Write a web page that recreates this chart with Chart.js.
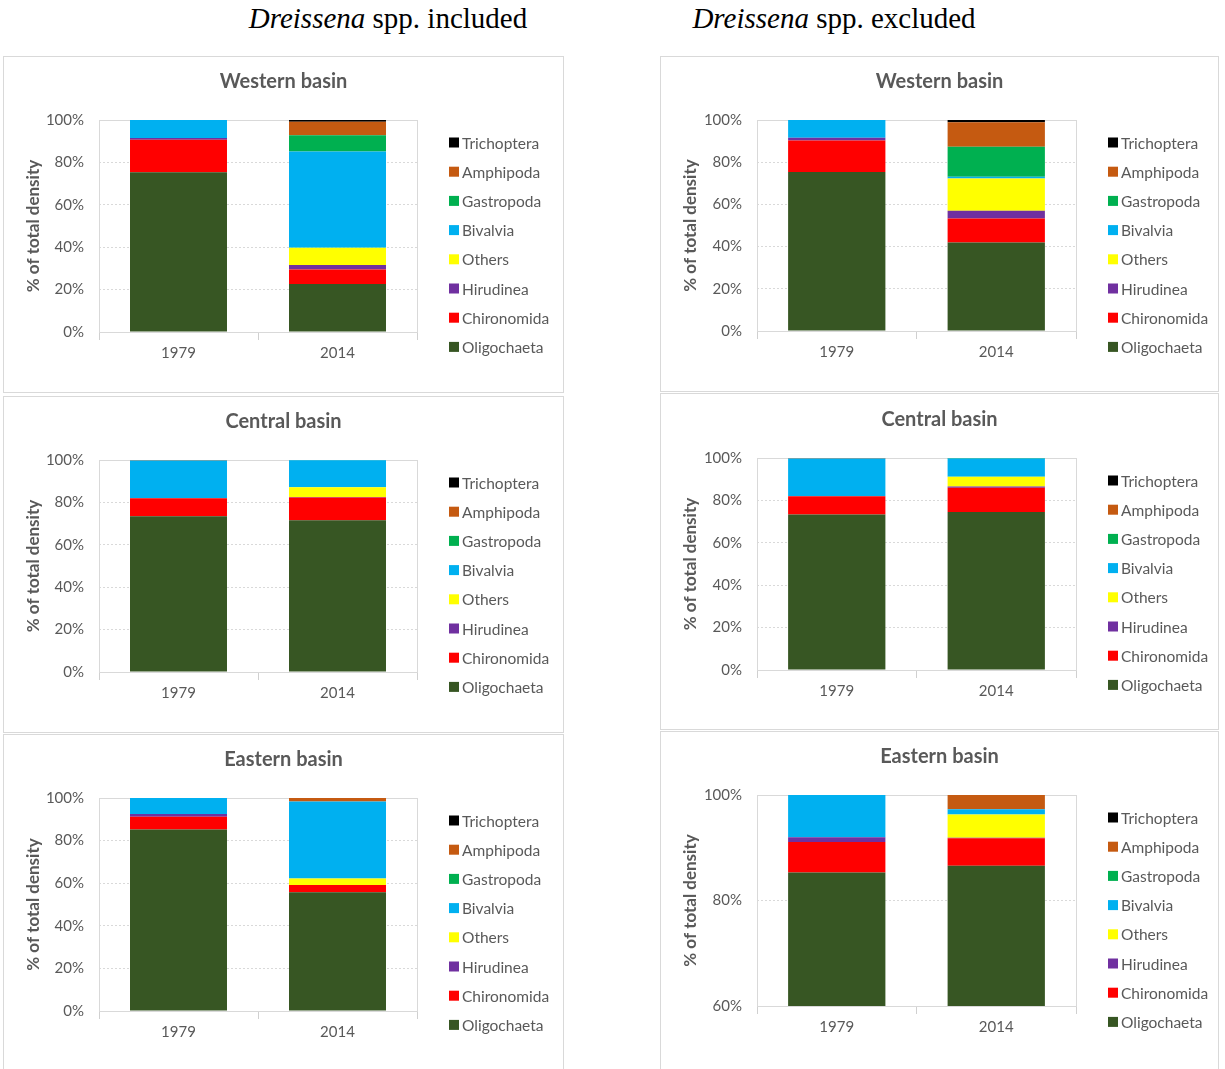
<!DOCTYPE html>
<html lang="en">
<head>
<meta charset="UTF-8">
<title>Benthic community composition, 1979 vs 2014</title>
<script src="https://cdn.jsdelivr.net/npm/chart.js@4.4.0/dist/chart.umd.min.js"></script>
<style>
    body {
        margin: 0;
        background: #ffffff;
        width: 1225px;
        height: 1069px;
        position: relative;
        overflow: hidden;
    }
    .col-head {
        position: absolute;
        top: -2px;
        font-family: 'Liberation Serif', 'Times New Roman', serif;
        font-size: 29px;
        color: #000;
        line-height: 40px;
        white-space: nowrap;
        transform: translateX(-50%);
    }
    .panel {
        position: absolute;
        border: 1px solid #d9d9d9;
        box-sizing: border-box;
        background: #fff;
    }
    .panel canvas {
        position: absolute;
        left: 0;
        top: 0;
    }
</style>
</head>
<body>
<div class="col-head" style="left:388px;"><i>Dreissena</i> spp. included</div>
<div class="col-head" style="left:834px;"><i>Dreissena</i> spp. excluded</div>

<script>
    // categories and taxa (stack order: bottom to top)
    const years = ['1979', '2014'];
    const taxa = ['Oligochaeta', 'Chironomida', 'Hirudinea', 'Others', 'Bivalvia', 'Gastropoda', 'Amphipoda', 'Trichoptera'];
    const taxaColors = ['#375623', '#ff0000', '#7030a0', '#ffff00', '#00b0f0', '#00b050', '#c55a11', '#000000'];

    // % of total density per taxon, same order as taxa
    const westIncl1979 = [75.4, 15.3, 0.8, 0, 8.5, 0, 0, 0];
    const westIncl2014 = [22.6, 6.9, 2.1, 8.1, 45.5, 7.6, 6.4, 0.8];
    const westExcl1979 = [75.3, 15.0, 1.3, 0, 8.4, 0, 0, 0];
    const westExcl2014 = [41.9, 11.4, 3.7, 15.3, 0.8, 14.2, 11.6, 1.1];
    const centralIncl1979 = [73.5, 8.4, 0.1, 0, 17.8, 0, 0.2, 0];
    const centralIncl2014 = [71.6, 10.7, 0.3, 4.5, 12.8, 0.1, 0, 0];
    const centralExcl1979 = [73.4, 8.5, 0.1, 0, 17.8, 0, 0.2, 0];
    const centralExcl2014 = [74.5, 11.5, 0.5, 4.7, 8.6, 0.2, 0, 0];
    const eastIncl1979 = [85.2, 6.0, 1.3, 0, 7.5, 0, 0, 0];
    const eastIncl2014 = [55.7, 3.4, 0.1, 3.0, 36.1, 0, 1.7, 0];
    const eastExcl1979 = [85.3, 5.8, 0.9, 0, 8.0, 0, 0, 0];
    const eastExcl2014 = [86.6, 5.2, 0.1, 4.4, 1.0, 0, 2.7, 0];

    // y axis ranges
    const fullRange = [0, 100];
    const eastExclRange = [60, 100];

    const textColor = '#595959';
    const fontFamily = 'Lato, Calibri, Carlito, sans-serif';

    // panel boxes and plot-area edges (page pixels)
    const panels = [
        { title: 'Western basin', a: westIncl1979, b: westIncl2014, range: fullRange,
          box: [3, 56, 561, 337], plot: [99, 417, 120, 332] },
        { title: 'Western basin', a: westExcl1979, b: westExcl2014, range: fullRange,
          box: [660, 56, 559, 336], plot: [757, 1076, 120, 331] },
        { title: 'Central basin', a: centralIncl1979, b: centralIncl2014, range: fullRange,
          box: [3, 396, 561, 337], plot: [99, 417, 460, 672] },
        { title: 'Central basin', a: centralExcl1979, b: centralExcl2014, range: fullRange,
          box: [660, 393, 559, 337], plot: [757, 1076, 458, 670] },
        { title: 'Eastern basin', a: eastIncl1979, b: eastIncl2014, range: fullRange,
          box: [3, 734, 561, 340], plot: [99, 417, 798, 1011] },
        { title: 'Eastern basin', a: eastExcl1979, b: eastExcl2014, range: eastExclRange,
          box: [660, 731, 559, 340], plot: [757, 1076, 795, 1006] }
    ];

    // light frame round the plot area
    const plotFrame = {
        id: 'plotFrame',
        beforeDatasetsDraw(chart) {
            const { ctx, chartArea: a } = chart;
            ctx.save();
            ctx.strokeStyle = '#d9d9d9';
            ctx.lineWidth = 1;
            ctx.strokeRect(Math.round(a.left) + 0.5, Math.round(a.top) + 0.5,
                Math.round(a.right - a.left), Math.round(a.bottom - a.top));
            ctx.restore();
        }
    };

    // panel title centred on the whole canvas, 38px above the plot
    const panelTitle = {
        id: 'panelTitle',
        afterDraw(chart, args, opts) {
            const { ctx, chartArea: a } = chart;
            ctx.save();
            ctx.font = 'bold 20px ' + fontFamily;
            ctx.fillStyle = textColor;
            ctx.textAlign = 'center';
            ctx.textBaseline = 'middle';
            ctx.fillText(opts.text, chart.width / 2, a.top - 38);
            ctx.restore();
        }
    };

    // legend listed top-down (reverse of stack), to the right of the plot
    const sideLegend = {
        id: 'sideLegend',
        afterDraw(chart) {
            const { ctx, chartArea: a } = chart;
            const sets = chart.data.datasets;
            ctx.save();
            ctx.font = '15.5px ' + fontFamily;
            ctx.textBaseline = 'middle';
            for (let i = 0; i < sets.length; i++) {
                const ds = sets[sets.length - 1 - i];
                const y = a.top + 22.5 + i * 29.2;
                const x = a.right + 32;
                ctx.fillStyle = ds.backgroundColor;
                ctx.fillRect(x, y - 5, 10, 10);
                ctx.fillStyle = textColor;
                ctx.fillText(ds.label, x + 13, y + 1);
            }
            ctx.restore();
        }
    };

    panels.forEach((p) => {
        const [bx, by, bw, bh] = p.box;
        const [pl, pr, pt, pb] = p.plot;
        const ox = bx + 1, oy = by + 1;
        const cw = bw - 2, ch = bh - 2;

        const div = document.createElement('div');
        div.className = 'panel';
        div.style.left = bx + 'px';
        div.style.top = by + 'px';
        div.style.width = bw + 'px';
        div.style.height = bh + 'px';
        const canvas = document.createElement('canvas');
        canvas.width = cw;
        canvas.height = ch;
        canvas.style.width = cw + 'px';
        canvas.style.height = ch + 'px';
        div.appendChild(canvas);
        document.body.appendChild(div);

        const yAxisWidth = pl - ox;
        const xAxisHeight = 60;
        const padBottom = ch - (pb - oy) - xAxisHeight;

        const datasets = taxa.map((name, i) => ({
            label: name,
            data: [p.a[i], p.b[i]],
            backgroundColor: taxaColors[i],
            borderWidth: 0,
            barPercentage: 0.61,
            categoryPercentage: 1
        }));

        new Chart(canvas.getContext('2d'), {
            type: 'bar',
            data: { labels: years, datasets: datasets },
            plugins: [plotFrame, panelTitle, sideLegend],
            options: {
                responsive: false,
                animation: false,
                devicePixelRatio: 1,
                layout: {
                    padding: { left: 0, top: pt - oy, right: cw - (pr - ox), bottom: padBottom }
                },
                plugins: {
                    legend: { display: false },
                    tooltip: { enabled: false },
                    title: { display: false },
                    panelTitle: { text: p.title }
                },
                scales: {
                    x: {
                        stacked: true,
                        afterFit(scale) { scale.height = xAxisHeight; },
                        grid: {
                            offset: true,
                            drawOnChartArea: false,
                            drawTicks: true,
                            tickLength: 8,
                            color: '#d0d0d0'
                        },
                        border: { color: '#d0d0d0', width: 1 },
                        ticks: {
                            color: textColor,
                            font: { family: fontFamily, size: 15 },
                            padding: 4
                        }
                    },
                    y: {
                        stacked: true,
                        min: p.range[0],
                        max: p.range[1],
                        afterFit(scale) { scale.width = yAxisWidth; },
                        grid: {
                            color: '#d9d9d9',
                            drawTicks: false
                        },
                        border: { display: false, dash: [2, 2] },
                        ticks: {
                            stepSize: 20,
                            color: textColor,
                            font: { family: fontFamily, size: 15 },
                            padding: 15,
                            callback: (v) => v + '%'
                        },
                        title: {
                            display: true,
                            text: '% of total density',
                            color: textColor,
                            font: { family: fontFamily, size: 17, weight: 'bold' },
                            padding: { top: 19, bottom: 0 }
                        }
                    }
                }
            }
        });
    });
</script>
</body>
</html>
